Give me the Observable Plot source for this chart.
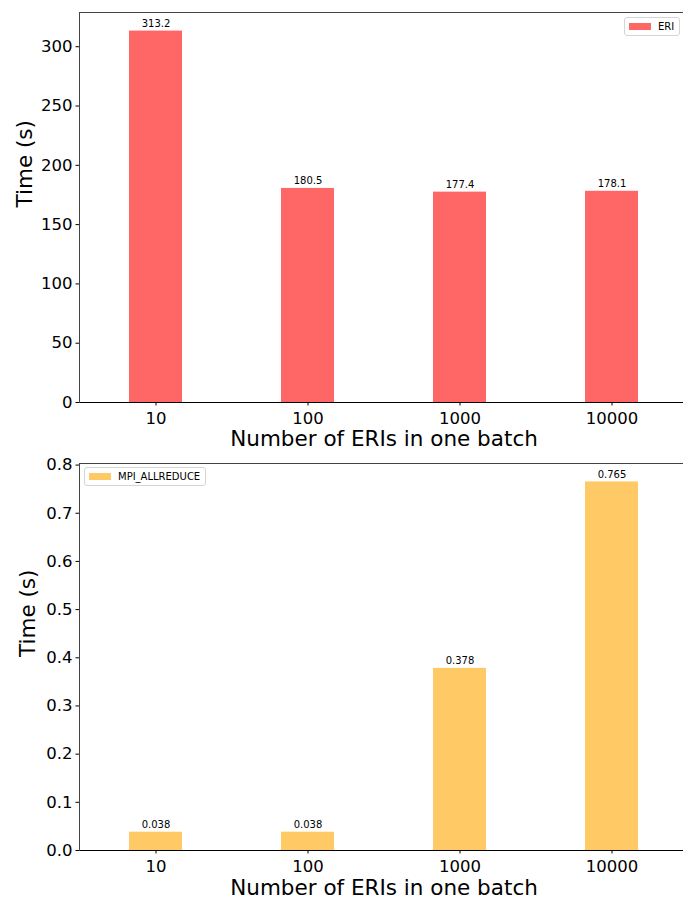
<!DOCTYPE html>
<html>
<head>
<meta charset="utf-8">
<script src="https://cdn.jsdelivr.net/npm/d3@7"></script>
<script src="https://cdn.jsdelivr.net/npm/@observablehq/plot@0.6"></script>
<style>
  html, body { margin: 0; padding: 0; background: #fff; }
  #wrap { position: relative; width: 683px; height: 899px; overflow: hidden; font-family: "DejaVu Sans", sans-serif; }
  #wrap svg { max-width: none !important; display: block; }
  .legend { position: absolute; background: #fff; border: 1px solid #d5d5d5; border-radius: 3px; font-size: 10px; color: #000; display: flex; align-items: center; padding: 0 5px 0 4px; height: 19px; box-sizing: border-box; }
  .sw { width: 22px; height: 7px; margin-right: 7px; }
</style>
</head>
<body>
<div id="wrap"></div>
<script>
const categories = ["10", "100", "1000", "10000"];
const eriValues = [313.2, 180.5, 177.4, 178.1];
const eriLabels = ["313.2", "180.5", "177.4", "178.1"];
const mpiValues = [0.038, 0.038, 0.378, 0.765];
const mpiLabels = ["0.038", "0.038", "0.378", "0.765"];
const eriTicks = [0, 50, 100, 150, 200, 250, 300];
const mpiTicks = [0, 0.1, 0.2, 0.3, 0.4, 0.5, 0.6, 0.7, 0.8];
const xTitle = "Number of ERIs in one batch";
const yTitle = "Time (s)";

const eriData = categories.map((c, i) => ({cat: c, v: eriValues[i], label: eriLabels[i]}));
const mpiData = categories.map((c, i) => ({cat: c, v: mpiValues[i], label: mpiLabels[i]}));

function panel({data, ymax, ticks, fmt, color, height, marginTop, marginBottom, ylabDx, xlabDy}) {
  return Plot.plot({
    width: 690,
    height,
    marginTop,
    marginBottom,
    marginLeft: 79,
    marginRight: 2,
    style: {fontFamily: "DejaVu Sans, sans-serif", fontSize: "16.5px", color: "#000", background: "#fff", overflow: "visible", maxWidth: "none"},
    x: {domain: categories, paddingInner: 0.65, paddingOuter: 0.325, align: 0.5},
    y: {domain: [0, ymax]},
    marks: [
      Plot.barY(data, {x: "cat", y: "v", fill: color}),
      Plot.text(data, {x: "cat", y: "v", text: "label", lineAnchor: "bottom", dy: -4, fontSize: 10, fill: "#000"}),
      Plot.axisY({ticks, tickFormat: fmt, tickSize: 3.5, tickPadding: 3.5, fontSize: 16.5, label: null, stroke: "#000"}),
      Plot.axisX({tickSize: 3.5, tickPadding: 6, fontSize: 16.5, label: null, stroke: "#000"}),
      Plot.ruleY([0], {stroke: "#000", strokeWidth: 1}),
      Plot.ruleY([ymax], {stroke: "#444", strokeWidth: 1}),
      Plot.frame({anchor: "left", stroke: "#444"}),
      Plot.text([xTitle], {frameAnchor: "bottom", dy: xlabDy, fontSize: 21.5, fill: "#000"}),
      Plot.text([yTitle], {frameAnchor: "left", dx: ylabDx, rotate: -90, fontSize: 21.5, fill: "#000"})
    ]
  });
}

const wrap = document.getElementById("wrap");
const p1 = panel({data: eriData, ymax: 313.2 * 1.05, ticks: eriTicks, fmt: d3.format("d"), color: "#ff6666", height: 450, marginTop: 12, marginBottom: 48, ylabDx: -54, xlabDy: 43});
const p2 = panel({data: mpiData, ymax: 0.765 * 1.05, ticks: mpiTicks, fmt: d3.format(".1f"), color: "#ffc966", height: 449, marginTop: 13, marginBottom: 49, ylabDx: -51, xlabDy: 44});
wrap.appendChild(p1);
wrap.appendChild(p2);

function legend(text, color, left, top) {
  const d = document.createElement("div");
  d.className = "legend";
  d.style.left = left + "px";
  d.style.top = top + "px";
  const s = document.createElement("span");
  s.className = "sw";
  s.style.background = color;
  d.appendChild(s);
  d.appendChild(document.createTextNode(text));
  wrap.appendChild(d);
}
legend("ERI", "#ff6666", 624, 17);
legend("MPI_ALLREDUCE", "#ffc966", 84, 467);
</script>
</body>
</html>
